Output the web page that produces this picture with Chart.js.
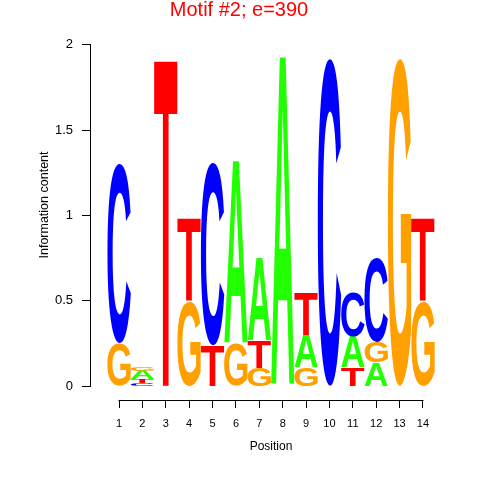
<!DOCTYPE html>
<html><head><meta charset="utf-8">
<script src="https://cdn.jsdelivr.net/npm/chart.js@4/dist/chart.umd.min.js"></script>
<style>html,body{margin:0;padding:0;background:#fff}#wrap{width:480px;height:480px;position:relative}</style>
</head><body><div id="wrap"><canvas id="c"></canvas></div>
<script>
const positions = [1,2,3,4,5,6,7,8,9,10,11,12,13,14];
const heightA = [0,0.05,0,0,0,1.07,0.48,1.93,0.19,0,0.18,0.14,0,0];
const heightC = [1.05,0.02,0,0,1.07,0,0,0,0,1.92,0.26,0.49,0,0];
const heightG = [0.25,0.025,0,0.50,0,0.25,0.11,0,0.11,0,0,0.12,1.92,0.50];
const heightT = [0,0.02,1.92,0.48,0.24,0,0.16,0,0.25,0,0.11,0,0,0.48];
const stackOrder = ['GC','CTAG','T','GT','TC','GA','GTA','A','GAT','C','TAC','AGC','G','GT'];
const yTicks = [0,0.5,1,1.5,2];
const titleText = 'Motif #2; e=390';
const xTitle = 'Position';
const yTitle = 'Information content';

const letterHeights = {A: heightA, C: heightC, G: heightG, T: heightT};
const letterColors = {A: '#22FF00', C: '#0000FF', G: '#FFA000', T: '#FF0000'};
const FONT = '"Liberation Sans", Arial, Helvetica, sans-serif';

function buildData(L) {
  const out = [];
  positions.forEach((p, i) => {
    const h = letterHeights[L][i];
    if (!h) return;
    let base = 0;
    for (const ch of stackOrder[i]) {
      if (ch === L) break;
      base += letterHeights[ch][i];
    }
    out.push({x: p, y: [base, base + h]});
  });
  return out;
}

const datasets = ['A','C','G','T'].map(L => ({
  label: L,
  letter: L,
  data: buildData(L),
  backgroundColor: 'rgba(0,0,0,0)',
  borderWidth: 0,
  barPercentage: 1,
  categoryPercentage: 1,
  grouped: false
}));

function drawGlyph(ctx, ch, color, left, top, w, h) {
  if (h < 0.3 || w < 0.3) return;
  ctx.save();
  ctx.font = 'bold 200px ' + FONT;
  ctx.textAlign = 'left';
  ctx.textBaseline = 'alphabetic';
  const m = ctx.measureText(ch);
  const gl = m.actualBoundingBoxLeft, gr = m.actualBoundingBoxRight;
  const ga = m.actualBoundingBoxAscent, gd = m.actualBoundingBoxDescent;
  ctx.translate(left, top);
  ctx.scale(w / (gl + gr), h / (ga + gd));
  ctx.fillStyle = color;
  ctx.fillText(ch, gl, ga);
  ctx.restore();
}

const logoPlugin = {
  id: 'logo',
  afterDatasetsDraw(chart) {
    const ctx = chart.ctx;
    chart.data.datasets.forEach((ds, i) => {
      const meta = chart.getDatasetMeta(i);
      meta.data.forEach(bar => {
        const p = bar.getProps(['x','y','base','width'], true);
        const top = Math.min(p.y, p.base), h = Math.abs(p.base - p.y);
        drawGlyph(ctx, ds.letter, letterColors[ds.letter], p.x - p.width / 2, top, p.width, h);
      });
    });
  },
  afterDraw(chart) {
    const ctx = chart.ctx, xs = chart.scales.x, ys = chart.scales.y, ca = chart.chartArea;
    ctx.save();
    ctx.strokeStyle = '#000';
    ctx.lineWidth = 1;
    ctx.beginPath();
    const lx = Math.round(ca.left) - 0.5;
    ctx.moveTo(lx, Math.round(ys.getPixelForValue(yTicks[0])) + 0.5);
    ctx.lineTo(lx, Math.round(ys.getPixelForValue(yTicks[yTicks.length - 1])) - 0.5);
    const by = Math.round(ca.bottom) + 0.5;
    ctx.moveTo(Math.round(xs.getPixelForValue(positions[0])) - 0.5, by);
    ctx.lineTo(Math.round(xs.getPixelForValue(positions[positions.length - 1])) + 0.5, by);
    ctx.stroke();
    // titles
    ctx.fillStyle = '#FF0000';
    ctx.font = '20px ' + FONT;
    ctx.textAlign = 'center';
    ctx.textBaseline = 'alphabetic';
    ctx.fillText(titleText, 239, 16);
    ctx.fillStyle = '#000';
    ctx.font = '12px ' + FONT;
    ctx.fillText(xTitle, (ca.left + ca.right) / 2, 450);
    ctx.save();
    ctx.translate(47.5, 205);
    ctx.rotate(-Math.PI / 2);
    ctx.font = '12.5px ' + FONT;
    ctx.fillText(yTitle, 0, 0);
    ctx.restore();
    ctx.restore();
  }
};

new Chart(document.getElementById('c'), {
  type: 'bar',
  data: {datasets},
  plugins: [logoPlugin],
  options: {
    responsive: true,
    maintainAspectRatio: false,
    animation: false,
    layout: {padding: {left: 0, right: 29, top: 31, bottom: 0}},
    plugins: {legend: {display: false}, tooltip: {enabled: false}, title: {display: false}},
    scales: {
      x: {
        type: 'linear', min: -0.2, max: 15.2, offset: false,
        afterBuildTicks: s => { s.ticks = positions.map(v => ({value: v})); },
        afterFit: s => { s.height = 80; },
        grid: {display: true, offset: false, drawOnChartArea: false, drawTicks: true, tickLength: 8, color: '#000', lineWidth: 1},
        border: {display: false},
        ticks: {color: '#000', font: {size: 11, family: FONT}, padding: 9, maxRotation: 0, autoSkip: false, callback: v => String(v)}
      },
      y: {
        type: 'linear', min: -0.08, max: 2.08,
        afterBuildTicks: s => { s.ticks = yTicks.map(v => ({value: v})); },
        afterFit: s => { s.width = 91; },
        grid: {display: true, drawOnChartArea: false, drawTicks: true, tickLength: 9, color: '#000', lineWidth: 1},
        border: {display: false},
        ticks: {color: '#000', font: {size: 13, family: FONT}, padding: 9, autoSkip: false, callback: v => String(v)}
      }
    }
  }
});
</script></body></html>
